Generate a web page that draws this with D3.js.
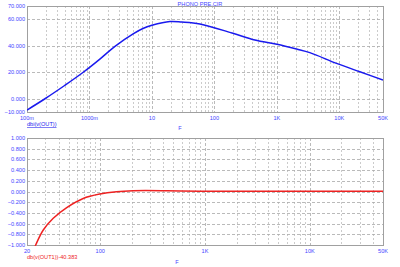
<!DOCTYPE html>
<html>
<head>
<meta charset="utf-8">
<script src="https://cdn.jsdelivr.net/npm/d3@7"></script>
<style>
  body { margin: 0; background: #fff; }
  text { font-family: Arial, "Liberation Sans", sans-serif; font-size: 5.6px; }
</style>
</head>
<body>
<div id="chart"></div>
<script>
// top plot: dbi(v(OUT))
const topFreq = [0.1, 0.194, 0.4, 0.795, 1.5, 2.56, 5, 7.18, 10, 19.4, 30, 58.6, 198, 445, 1000, 2066, 3370, 9016, 21300, 50000];
const topDb = [-8.5, 0, 10, 20, 30.3, 39.6, 49, 53, 55.4, 58.3, 57.9, 56.4, 49.4, 44.3, 41.1, 37.5, 34.8, 26.7, 20.4, 14.1];
const topYTicks = [70, 60, 40, 20, 0, -10];
const topXTicks = [0.1, 1, 10, 100, 1000, 10000, 50000];
const topXLabels = ["100m", "1000m", "10", "100", "1K", "10K", "50K"];

// bottom plot: db(v(OUT1))-40.383
const botFreq = [20, 24.2, 28.6, 35.6, 47.9, 68.8, 99, 143, 205, 433, 890, 2000, 3300, 10000, 50000];
const botDb = [-1.4, -1, -0.72, -0.5, -0.3, -0.13, -0.047, -0.003, 0.015, 0.015, 0.005, 0.003, 0.006, 0.006, 0.006];
const botYTicks = [1, 0.8, 0.6, 0.4, 0.2, 0, -0.2, -0.4, -0.6, -0.8, -1];
const botXTicks = [20, 100, 1000, 10000, 50000];
const botXLabels = ["20", "100", "1K", "10K", "50K"];

const width = 400, height = 267;
const blue = "#4646ff", gridCol = "#a8a8a8";

const svg = d3.select("#chart").append("svg")
    .attr("width", width)
    .attr("height", height);

// minor grid positions for log axis
function logGrid(lo, hi) {
    const out = [];
    for (let dec = Math.pow(10, Math.floor(Math.log10(lo))); dec <= hi; dec *= 10) {
        for (let m = 1; m <= 9; m++) {
            const v = +(m * dec).toPrecision(6);
            if (v > lo && v < hi) out.push({v: v, major: m === 1});
        }
    }
    return out;
}

function drawPlot(opt) {
    const x = d3.scaleLog().domain(opt.xDomain).range([27, 383]);
    const y = d3.scaleLinear().domain(opt.yDomain).range([opt.bottom, opt.top]);
    const g = svg.append("g");

    // vertical grid
    g.selectAll(".vg").data(logGrid(opt.xDomain[0], opt.xDomain[1]))
        .enter().append("line")
        .attr("x1", d => Math.round(x(d.v)) + 0.5)
        .attr("x2", d => Math.round(x(d.v)) + 0.5)
        .attr("y1", opt.top).attr("y2", opt.bottom)
        .attr("stroke", gridCol)
        .attr("stroke-opacity", d => d.major ? 1 : 0.75)
        .attr("stroke-dasharray", d => d.major ? "3,2" : "2,2")
        .attr("stroke-width", 0.8);

    // horizontal grid
    g.selectAll(".hg").data(opt.yGrid)
        .enter().append("line")
        .attr("x1", 27).attr("x2", 383)
        .attr("y1", d => Math.round(y(d)) + 0.5)
        .attr("y2", d => Math.round(y(d)) + 0.5)
        .attr("stroke", gridCol)
        .attr("stroke-dasharray", "3,2")
        .attr("stroke-width", 0.8);

    // frame
    g.append("rect")
        .attr("x", 27.5).attr("y", opt.top + 0.5)
        .attr("width", 356).attr("height", opt.bottom - opt.top)
        .attr("fill", "none")
        .attr("stroke", "#a0a0a0");

    // y tick labels
    g.selectAll(".yl").data(opt.yTicks)
        .enter().append("text")
        .attr("x", 25)
        .attr("y", d => y(d) + 2)
        .attr("text-anchor", "end")
        .attr("fill", blue)
        .text(d => d3.format(".3f")(d));

    // x tick labels
    g.selectAll(".xl").data(opt.xTicks)
        .enter().append("text")
        .attr("x", d => x(d))
        .attr("y", opt.bottom + 7.5)
        .attr("text-anchor", "middle")
        .attr("fill", blue)
        .text((d, i) => opt.xLabels[i]);

    // clip + curve
    const clipId = "clip" + opt.top;
    svg.append("clipPath").attr("id", clipId)
        .append("rect")
        .attr("x", 27).attr("y", opt.top)
        .attr("width", 356).attr("height", opt.bottom - opt.top + 1);

    const line = d3.line()
        .x(d => x(d[0]))
        .y(d => y(d[1]))
        .curve(d3.curveCatmullRom.alpha(0.5));

    g.append("path")
        .datum(d3.zip(opt.freq, opt.vals))
        .attr("clip-path", "url(#" + clipId + ")")
        .attr("d", line)
        .attr("fill", "none")
        .attr("stroke", opt.color)
        .attr("stroke-width", 1.5);

    // trace name
    const t = g.append("text")
        .attr("x", 27)
        .attr("y", opt.bottom + 14)
        .attr("fill", opt.color)
        .text(opt.name);
    if (opt.underline) t.attr("text-decoration", "underline");

    return g;
}

drawPlot({
    top: 6, bottom: 112,
    xDomain: [0.1, 50000], yDomain: [-10, 70],
    yTicks: topYTicks, yGrid: [60, 40, 20, 0],
    xTicks: topXTicks, xLabels: topXLabels,
    freq: topFreq, vals: topDb,
    color: "#1a1aee", name: "dbi(v(OUT))", underline: true
});

drawPlot({
    top: 138, bottom: 245,
    xDomain: [20, 50000], yDomain: [-1, 1],
    yTicks: botYTicks, yGrid: botYTicks.slice(1, -1),
    xTicks: botXTicks, xLabels: botXLabels,
    freq: botFreq, vals: botDb,
    color: "#ee2222", name: "db(v(OUT1))-40.383", underline: false
});

// title and F labels
svg.append("text").attr("x", 200).attr("y", 6)
    .attr("text-anchor", "middle").attr("fill", blue)
    .text("PHONO PRE.CIR");
svg.append("text").attr("x", 180).attr("y", 130)
    .attr("text-anchor", "middle").attr("fill", blue).text("F");
svg.append("text").attr("x", 177).attr("y", 264)
    .attr("text-anchor", "middle").attr("fill", blue).text("F");
</script>
</body>
</html>
